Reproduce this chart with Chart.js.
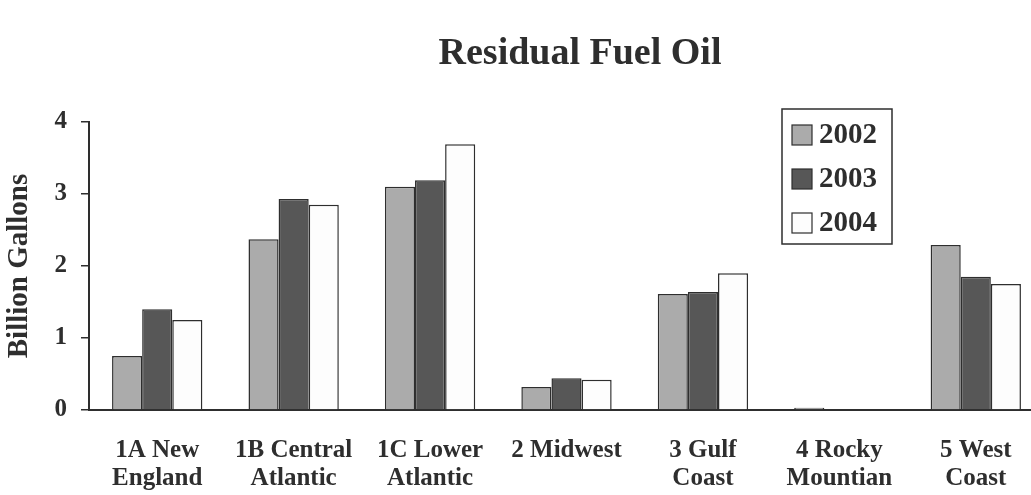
<!DOCTYPE html>
<html>
<head>
<meta charset="utf-8">
<script src="https://cdn.jsdelivr.net/npm/chart.js@4.4.1/dist/chart.umd.min.js"></script>
<style>
  html, body { margin: 0; padding: 0; background: #fff; overflow: hidden; }
  #wrap { width: 1031px; height: 495px; overflow: hidden; }
</style>
</head>
<body>
<div id="wrap"><canvas id="chart-fuel" width="1060" height="495"></canvas></div>
<script>
// Chart data
const chartTitle = 'Residual Fuel Oil';
const axisTitle = 'Billion Gallons';
const regions = [
  ['1A New', 'England'],
  ['1B Central', 'Atlantic'],
  ['1C Lower', 'Atlantic'],
  '2 Midwest',
  ['3 Gulf', 'Coast'],
  ['4 Rocky', 'Mountian'],
  ['5 West', 'Coast']
];
const years = ['2002', '2003', '2004'];
const values2002 = [0.75, 2.37, 3.10, 0.32, 1.61, 0.03, 2.29];
const values2003 = [1.40, 2.93, 3.19, 0.44, 1.64, 0.01, 1.85];
const values2004 = [1.25, 2.85, 3.69, 0.42, 1.90, 0.01, 1.75];
const yMin = 0;
const yMax = 4;
const yStep = 1;

const SERIF = "'Liberation Serif', 'DejaVu Serif', serif";
const INK = '#2e2e2e';
const fills = ['#ababab', '#575757', '#fdfdfd'];

Chart.defaults.font.family = SERIF;
Chart.defaults.color = INK;

// Title drawn a bit right of canvas centre, like the original
const titlePlugin = {
  id: 'fuelTitle',
  afterDraw(chart) {
    const ctx = chart.ctx;
    ctx.save();
    ctx.font = 'bold 38px ' + SERIF;
    ctx.fillStyle = INK;
    ctx.textAlign = 'center';
    ctx.textBaseline = 'alphabetic';
    ctx.fillText(chartTitle, 580, 64);
    ctx.restore();
  }
};

// Boxed legend inside the plot
const boxLegend = {
  id: 'boxLegend',
  afterDraw(chart) {
    const ctx = chart.ctx;
    const x = 782, y = 109, w = 110, h = 135;
    ctx.save();
    ctx.fillStyle = '#fff';
    ctx.fillRect(x, y, w, h);
    ctx.strokeStyle = INK;
    ctx.lineWidth = 1.5;
    ctx.strokeRect(x, y, w, h);
    ctx.font = 'bold 29px ' + SERIF;
    ctx.textBaseline = 'middle';
    chart.data.datasets.forEach((ds, i) => {
      const cy = y + 26 + i * 44;
      ctx.fillStyle = ds.backgroundColor;
      ctx.fillRect(x + 10, cy - 10, 20, 20);
      ctx.strokeStyle = INK;
      ctx.lineWidth = 1.2;
      ctx.strokeRect(x + 10, cy - 10, 20, 20);
      ctx.fillStyle = INK;
      ctx.fillText(ds.label, x + 37, cy + 1);
    });
    ctx.restore();
  }
};

new Chart(document.getElementById('chart-fuel'), {
  type: 'bar',
  data: {
    labels: regions,
    datasets: [
      { label: years[0], data: values2002, backgroundColor: fills[0] },
      { label: years[1], data: values2003, backgroundColor: fills[1] },
      { label: years[2], data: values2004, backgroundColor: fills[2] }
    ].map(ds => Object.assign(ds, {
      borderColor: INK,
      borderWidth: 1.5,
      borderSkipped: 'bottom',
      categoryPercentage: 0.662,
      barPercentage: 1
    }))
  },
  options: {
    responsive: false,
    animation: false,
    layout: { padding: { top: 122, right: 16, left: 0, bottom: 0 } },
    plugins: {
      legend: { display: false },
      title: { display: false },
      tooltip: { enabled: false }
    },
    scales: {
      x: {
        grid: { display: false, drawTicks: false },
        border: { display: true, color: INK, width: 2 },
        ticks: {
          font: { size: 25, weight: 'bold', lineHeight: 1.12 },
          padding: 27,
          maxRotation: 0,
          autoSkip: false
        },
        afterFit: s => { s.height = 85; }
      },
      y: {
        min: yMin,
        max: yMax,
        ticks: {
          stepSize: yStep,
          font: { size: 25, weight: 'bold' },
          padding: 14
        },
        grid: {
          drawOnChartArea: false,
          drawTicks: true,
          tickLength: 8,
          color: INK,
          lineWidth: 1.5
        },
        border: { display: true, color: INK, width: 2 },
        title: {
          display: true,
          text: axisTitle,
          font: { size: 29, weight: 'bold' },
          padding: { top: 2, bottom: 0 }
        },
        afterFit: s => { s.width = 89; }
      }
    }
  },
  plugins: [titlePlugin, boxLegend]
});
</script>
</body>
</html>
